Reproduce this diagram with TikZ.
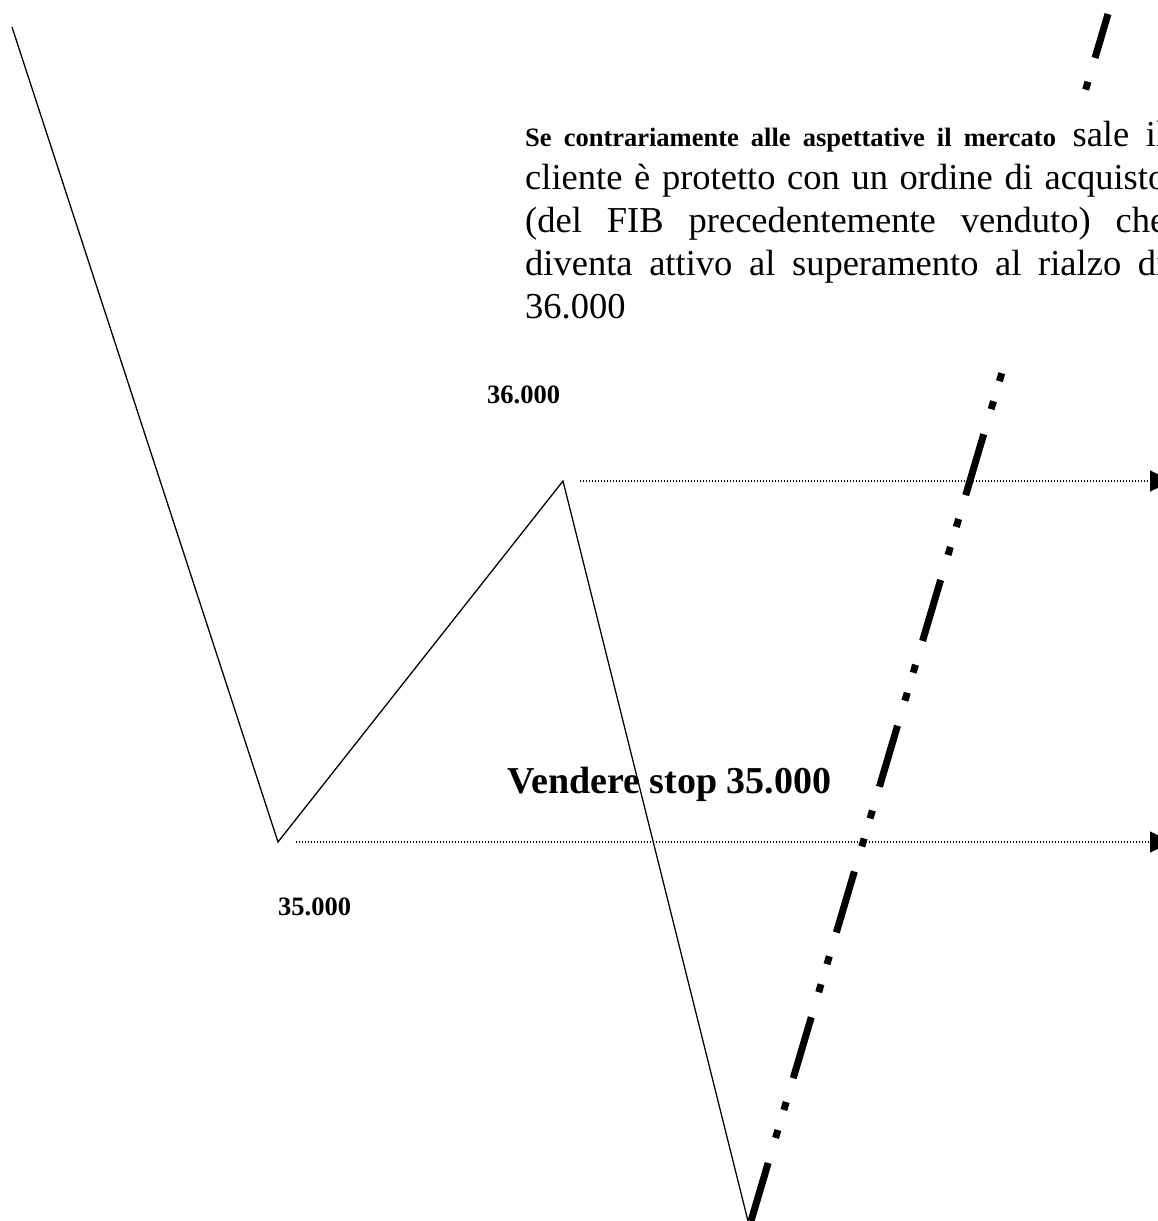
\documentclass[tikz,border=0pt]{standalone}
\usepackage{fontspec}
\setmainfont{Liberation Serif}
\usetikzlibrary{arrows.meta}
\begin{document}
\begin{tikzpicture}[x=1pt,y=-1pt,
  price/.style={line width=1.3pt,line join=miter},
  level/.style={line width=1.1pt,dash pattern=on 1.3pt off 1.7pt,-{Triangle[length=22pt,width=21pt]}},
  trend/.style={line width=7pt,line cap=butt,dash pattern=on 63.6pt off 26.1pt on 8.3pt off 20.9pt on 8.3pt off 24.8pt,dash phase=3.1pt},
  lbl/.style={inner sep=0pt,anchor=base west,font=\fontsize{26.5}{30}\selectfont\bfseries},
  body/.style={inner sep=0pt,anchor=base west,font=\fontsize{36.5}{43}\selectfont},
  textbox/.style={fill=white,inner sep=0pt,anchor=north west,minimum width=670pt,minimum height=262pt}]
\useasboundingbox (0,0) rectangle (1158,1221);
\fill[white] (0,0) rectangle (1158,1221);
% price path
\coordinate (p0) at (12,27);
\coordinate (p1) at (278,842);
\coordinate (p2) at (563,481);
\coordinate (p3) at (748,1221);
\draw[price] (p0) -- (p1) -- (p2) -- (p3);
% level arrows
\coordinate (a1s) at (580,481);
\coordinate (a1e) at (1172,481);
\coordinate (a2s) at (296,842);
\coordinate (a2e) at (1172,842);
\draw[level] (a1s) -- (a1e);
\draw[level] (a2s) -- (a2e);
% trend line
\coordinate (t0) at (751,1221);
\coordinate (t1) at (1108,14);
\draw[trend] (t0) -- (t1);
% labels
\node[lbl] (l36) at (487,403) {36.000};
\node[lbl] (l35) at (278,915) {35.000};
\node[lbl,font=\fontsize{38}{42}\selectfont\bfseries] (vs) at (507,793) {Vendere stop 35.000};
% text box (opaque)
\node[textbox] (box) at (510,100) {};
\node[body] (r1) at (525,146) {\makebox[641pt][s]{{\fontsize{26.5}{30}\selectfont\bfseries Se contrariamente alle aspettative il mercato} sale il}};
\node[body] (r2) at (525,189) {\makebox[641pt][s]{cliente è protetto con un ordine di acquisto}};
\node[body] (r3) at (525,232) {\makebox[641pt][s]{(del FIB precedentemente venduto) che}};
\node[body] (r4) at (525,275) {\makebox[641pt][s]{diventa attivo al superamento al rialzo di}};
\node[body] (r5) at (525,318) {36.000};
\end{tikzpicture}
\end{document}
